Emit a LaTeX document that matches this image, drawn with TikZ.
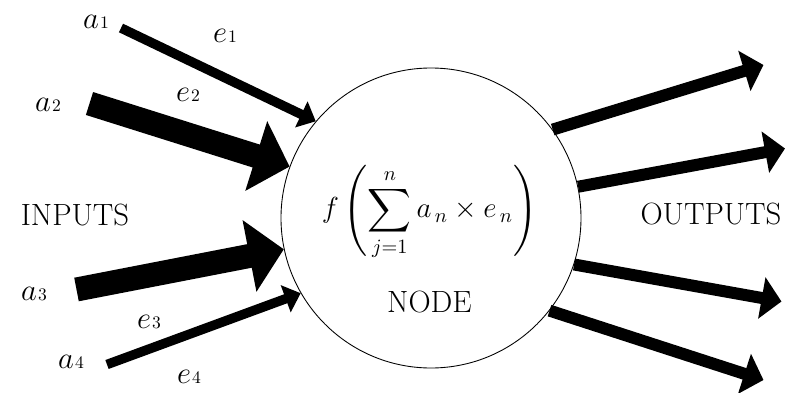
\RequirePackage{fix-cm}
\documentclass[tikz,border=0pt]{standalone}
\usepackage{amsmath}
\usepackage{tikz}
\usetikzlibrary{arrows.meta}

\newcommand{\wt}[2]{$#1$\kern0.6pt{\fontsize{10}{11}\selectfont #2}}

\begin{document}
\begin{tikzpicture}[
  neuron/.style={circle,draw,line width=0.5pt,minimum size=6cm,inner sep=0pt},
  light/.style={line width=1.9mm,-{Triangle[length=3.2mm,width=5.6mm]}},
  heavy/.style={line width=4.8mm,-{Triangle[length=7mm,width=14.2mm]}},
  outarrow/.style={line width=2.4mm,-{Triangle[length=4mm,width=8.2mm]}},
  lbl/.style={font=\fontsize{17.5}{21}\selectfont,inner sep=0pt,anchor=base}]

\useasboundingbox (0,0) rectangle (15.72,7.84);

\node[neuron] (node) at (8.62,3.48) {};

% free ends of the connectors
\coordinate (in1) at (2.42,7.28);
\coordinate (in2) at (1.79,5.77);
\coordinate (in3) at (1.53,2.05);
\coordinate (in4) at (2.14,0.55);
\coordinate (out1) at (15.27,6.54);
\coordinate (out2) at (15.70,4.87);
\coordinate (out3) at (15.63,1.81);
\coordinate (out4) at (15.27,0.24);

% inputs
\draw[light] (in1) -- (node.140);
\draw[heavy] (in2) -- (node.160);
\draw[heavy] (in3) -- (node.192);
\draw[light] (in4) -- (node.210);

% outputs
\draw[outarrow] (node.36) -- (out1);
\draw[outarrow] (node.12) -- (out2);
\draw[outarrow] (node.342) -- (out3);
\draw[outarrow] (node.322) -- (out4);

% labels
\node[lbl] (a1) at (1.92,7.28) {\wt{a}{1}};
\node[lbl] (e1) at (4.50,6.99) {\wt{e}{1}};
\node[lbl] (a2) at (0.96,5.61) {\wt{a}{2}};
\node[lbl] (e2) at (3.76,5.81) {\wt{e}{2}};
\node[lbl] (a3) at (0.68,1.84) {\wt{a}{3}};
\node[lbl] (e3) at (2.98,1.28) {\wt{e}{3}};
\node[lbl] (a4) at (1.42,0.48) {\wt{a}{4}};
\node[lbl] (e4) at (3.78,0.18) {\wt{e}{4}};
\node[lbl] (inputs) at (1.50,3.34) {INPUTS};
\node[lbl] (outputs) at (14.22,3.36) {OUTPUTS};
\node[lbl] (name) at (8.59,1.60) {NODE};
\node[font=\fontsize{16.5}{20}\selectfont,inner sep=0pt] (sum) at (8.59,3.59)
  {$\displaystyle f\left(\sum_{j=1}^{n} a_{\,n}\times e_{\,n}\right)$};
\end{tikzpicture}
\end{document}
